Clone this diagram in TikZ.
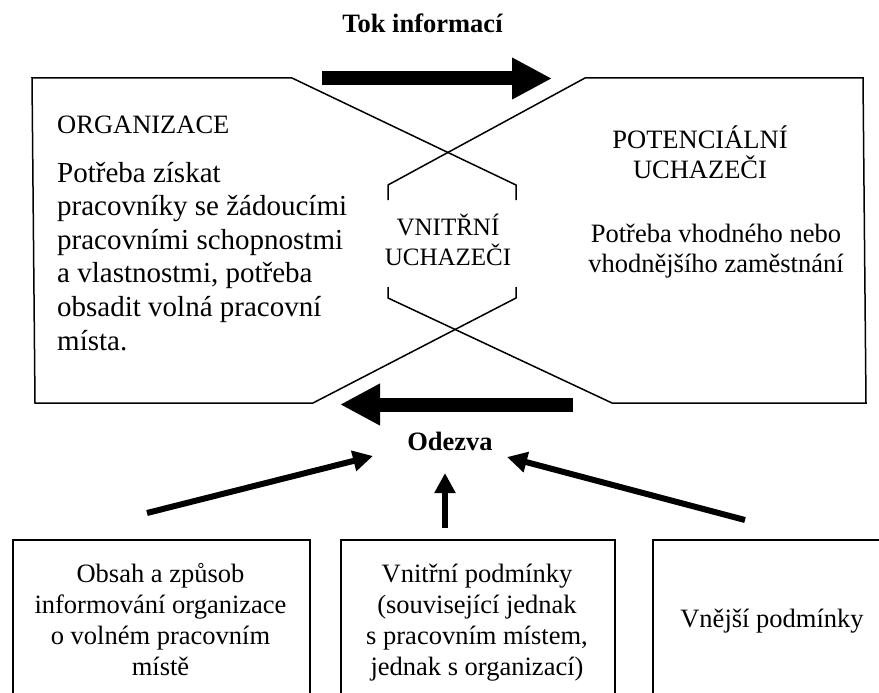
\documentclass[tikz,border=0pt]{standalone}
\usepackage{fontspec}
\setmainfont{Liberation Serif}
\usetikzlibrary{arrows.meta}

\begin{document}
\begin{tikzpicture}[x=1pt, y=-1pt,
  outline/.style={line width=1.5pt, line join=miter},
  boxframe/.style={draw, line width=2pt, inner sep=0pt, anchor=north west},
  bigarrow/.style={line width=14pt, -{Triangle[length=40pt,width=39pt]}},
  smallarrow/.style={line width=6pt, -{Triangle[length=20pt,width=20pt]}},
  boldcap/.style={font=\fontsize{26.5}{30}\selectfont\bfseries, inner sep=0pt, anchor=base},
  plain/.style={font=\fontsize{26.5}{30}\selectfont, inner sep=0pt, anchor=base, align=center},
  bigbody/.style={font=\fontsize{29}{33.6}\selectfont, inner sep=0pt, anchor=base west, align=left},
  boxtext/.style={font=\fontsize{26.5}{31}\selectfont, inner sep=0pt, anchor=base, align=center}
]
\useasboundingbox (0,0) rectangle (879,693);
\clip (0,0) rectangle (879,693);

% corner points of the organisation block and the hexagon brackets
\coordinate (oTL) at (32,78);
\coordinate (oTR) at (292,78);
\coordinate (oBR) at (313,403);
\coordinate (oBL) at (35,403);
\coordinate (hRT)  at (516,185);
\coordinate (hRTb) at (516,200);
\coordinate (hRB)  at (516,298);
\coordinate (hRBb) at (516,287);

% corner points of the candidates block
\coordinate (pTL) at (585,78);
\coordinate (pTR) at (863,78);
\coordinate (pBR) at (866,403);
\coordinate (pBL) at (612,403);
\coordinate (hLT)  at (388,185);
\coordinate (hLTb) at (388,200);
\coordinate (hLB)  at (388,298);
\coordinate (hLBb) at (388,287);

% the two pointed blocks; their slanted sides cross and form the hexagon
\draw[outline] (hRTb) -- (hRT) -- (oTR) -- (oTL) -- (oBL) -- (oBR) -- (hRB) -- (hRBb);
\draw[outline] (hLTb) -- (hLT) -- (pTL) -- (pTR) -- (pBR) -- (pBL) -- (hLB) -- (hLBb);

% texts of the upper part (multi-line nodes sit on the baseline of their last line)
\node[boldcap] (tok) at (422.5,33) {Tok informací};
\node[plain, anchor=base west] (org) at (57,133) {ORGANIZACE};
\node[bigbody] (orgneed) at (57,350) {Potřeba získat\\pracovníky se žádoucími\\pracovními schopnostmi\\a vlastnostmi, potřeba\\obsadit volná pracovní\\místa.};
\node[plain, font=\fontsize{25}{30}\selectfont] (inner) at (448,265) {VNITŘNÍ\\UCHAZEČI};
\node[plain] (pot) at (700,178) {POTENCIÁLNÍ\\UCHAZEČI};
\node[plain] (potneed) at (716,272) {Potřeba vhodného nebo\\vhodnějšího zaměstnání};
\node[boldcap] (odezva) at (450,450) {Odezva};

% information flow and response
\coordinate (tokS) at (322,78.5);
\coordinate (tokE) at (552,78.5);
\draw[bigarrow] (tokS) -- (tokE);
\coordinate (odS) at (573,404.5);
\coordinate (odE) at (340,404.5);
\draw[bigarrow] (odS) -- (odE);

% factors influencing the response
\node[boxframe, minimum width=297pt, minimum height=200pt] (b1) at (12,539) {};
\node[boxframe, minimum width=274pt, minimum height=200pt] (b2) at (340,539) {};
\node[boxframe, minimum width=240pt, minimum height=200pt] (b3) at (652,539) {};
\node[boxtext] (t1) at (160.5,675) {Obsah a způsob\\informování organizace\\o volném pracovním\\místě};
\node[boxtext] (t2) at (477,675) {Vnitřní podmínky\\(související jednak\\s pracovním místem,\\jednak s organizací)};
\node[boxtext] (t3) at (772,627) {Vnější podmínky};

\coordinate (a1S) at (147,513);
\coordinate (a1E) at (373,456);
\coordinate (a2S) at (445,528);
\coordinate (a2E) at (445,473);
\coordinate (a3S) at (745,520);
\coordinate (a3E) at (507,457);
\draw[smallarrow] (a1S) -- (a1E);
\draw[smallarrow] (a2S) -- (a2E);
\draw[smallarrow] (a3S) -- (a3E);
\end{tikzpicture}
\end{document}
